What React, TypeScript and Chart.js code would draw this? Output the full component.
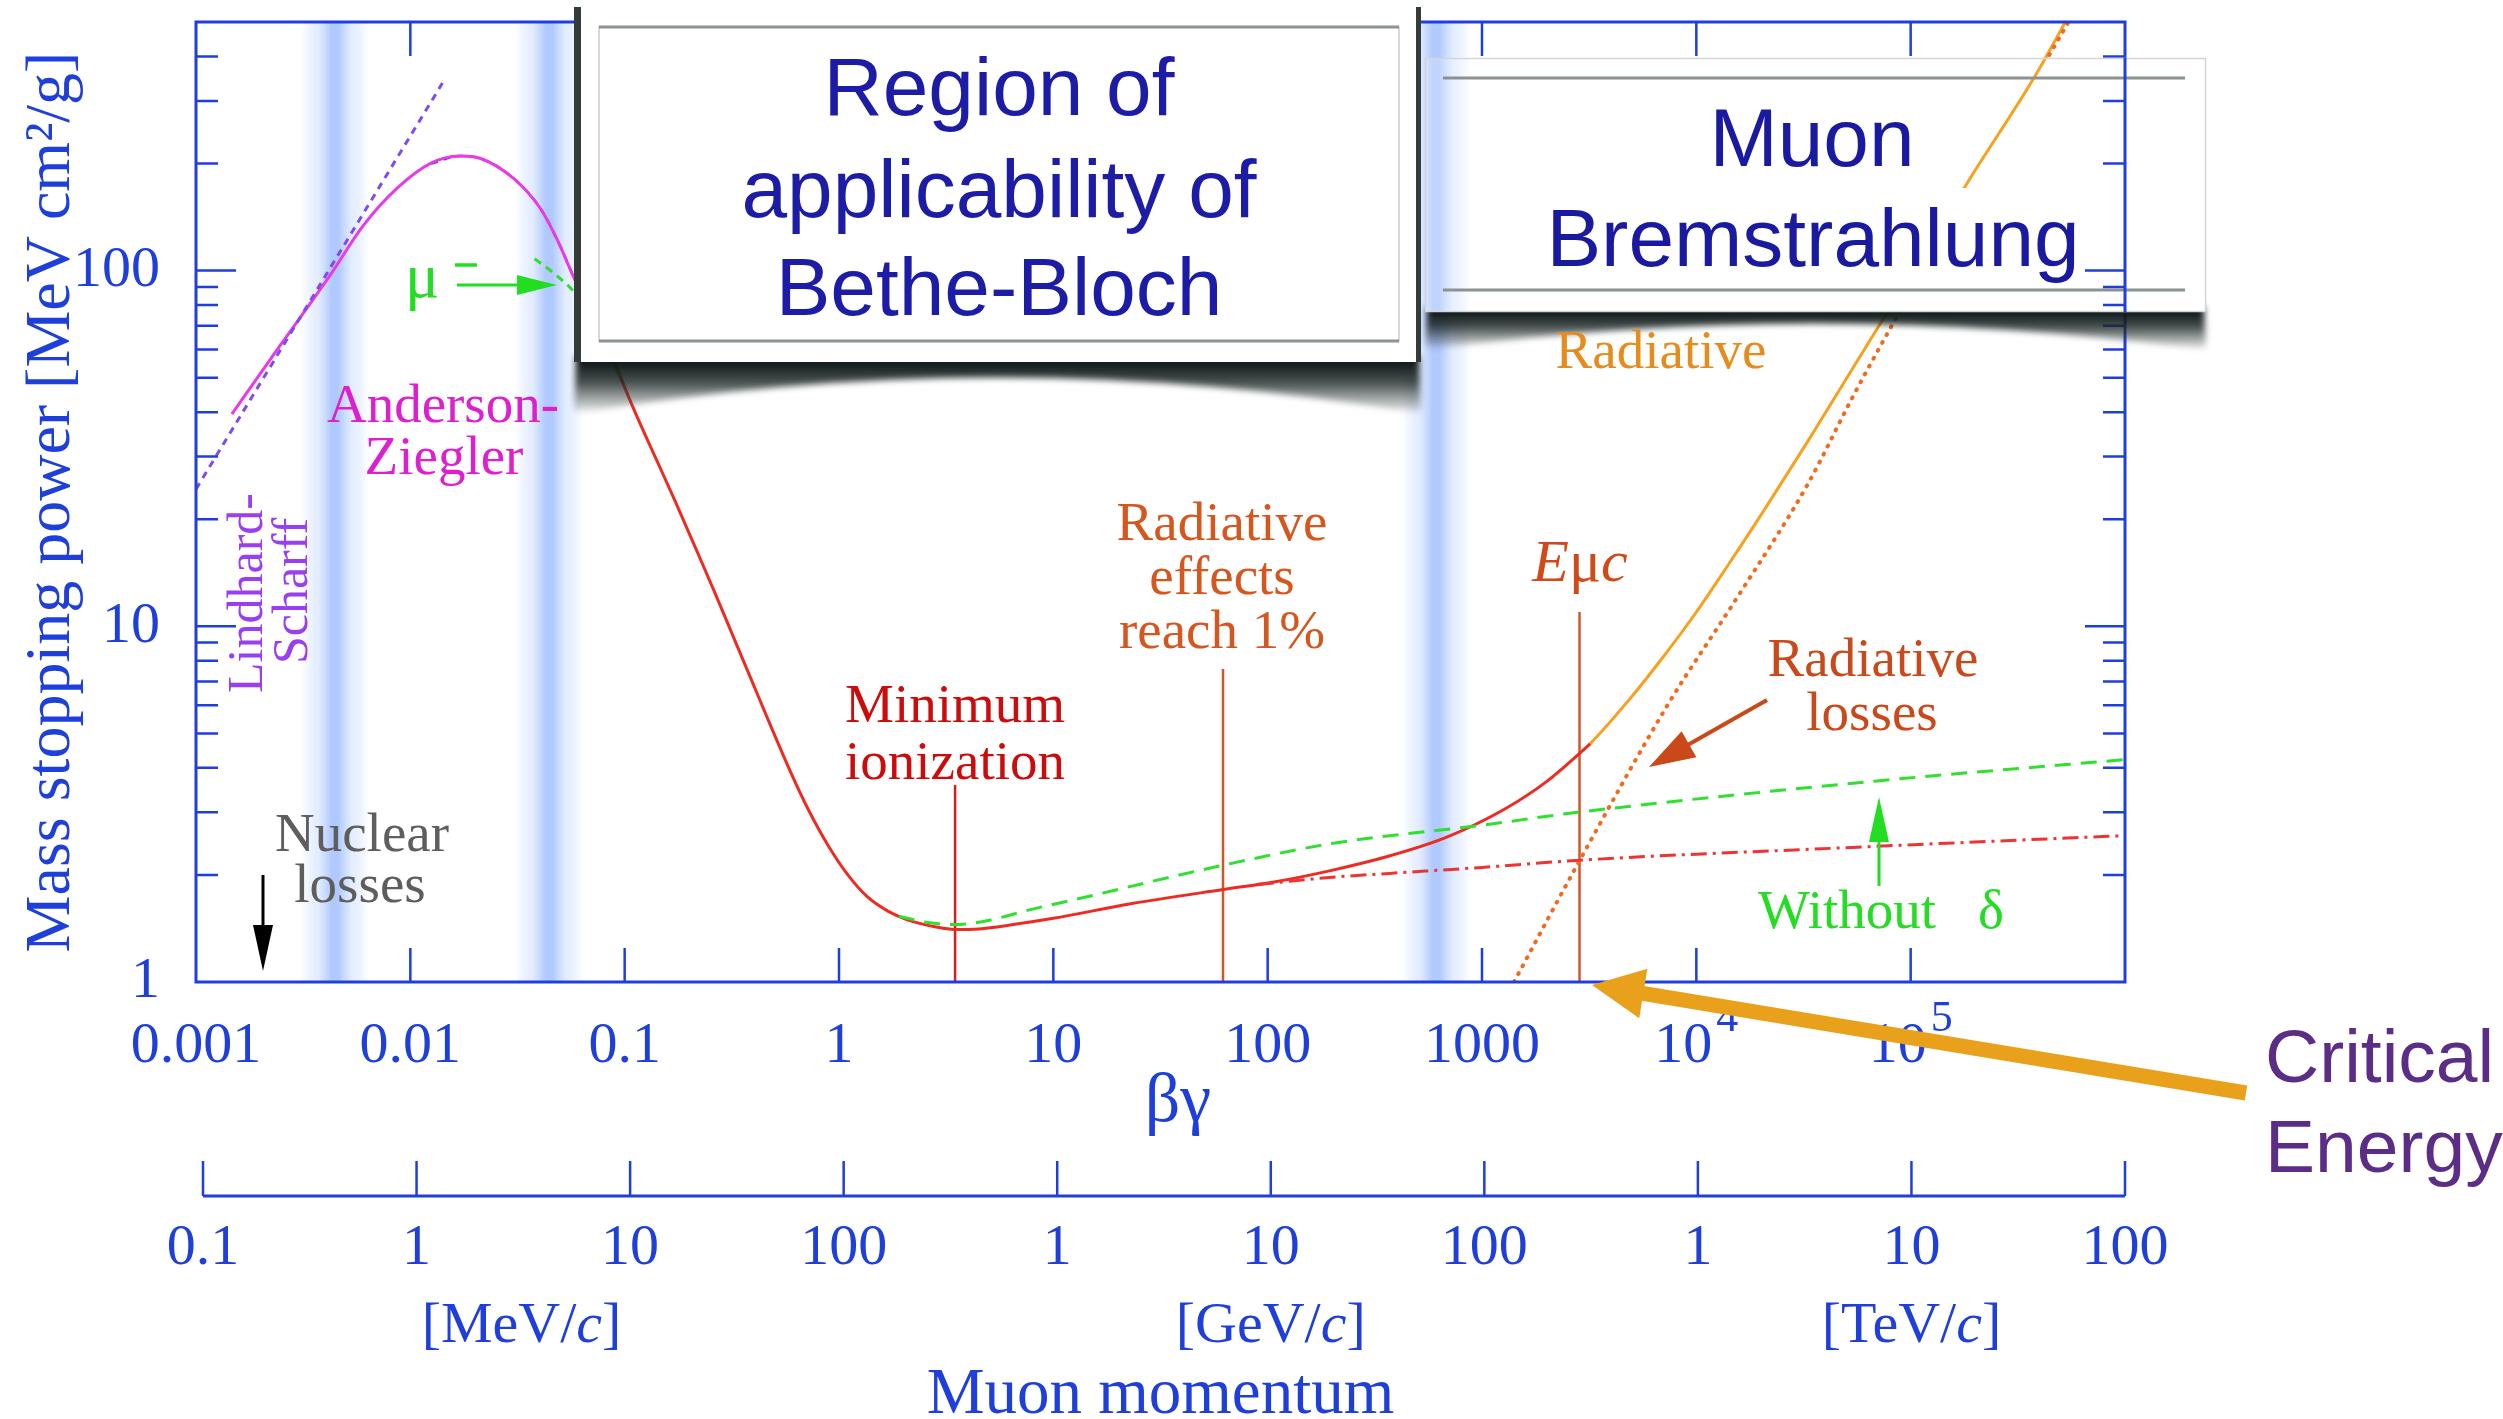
import React, { useEffect, useRef } from 'react';
import { Chart, registerables } from 'chart.js';

Chart.register(...registerables);

const SERIF = '"Liberation Serif", "Times New Roman", Times, serif';
const SANS = '"Liberation Sans", Arial, Helvetica, sans-serif';
const BLUE = '#1f3fdb';

// ---------- axes ----------
const bgTicks = [0.001, 0.01, 0.1, 1, 10, 100, 1000, 1e4, 1e5, 1e6];
const bgTickLabels = ['0.001', '0.01', '0.1', '1', '10', '100', '1000', '', '', ''];
const bgTickPowers = ['', '', '', '', '', '', '', '4', '5', ''];
const yTicks = [1, 10, 100];
const yTickLabels = ['1', '10', '100'];
const yMinorTicks = [2, 3, 4, 5, 6, 7, 8, 9, 20, 30, 40, 50, 60, 70, 80, 90, 200, 300, 400];
const pTicks = [0.1, 1, 10, 100, 1e3, 1e4, 1e5, 1e6, 1e7, 1e8]; // MeV/c
const pTickLabels = ['0.1', '1', '10', '100', '1', '10', '100', '1', '10', '100'];
const pUnitAt = [3.1, 1e4, 1e7];
const pUnitNames = ['MeV', 'GeV', 'TeV'];

// blue shaded region boundaries (βγ)
const bandCenters = [0.00445, 0.0444, 611];

// ---------- series (βγ, MeV cm²/g) ----------
const lsBG = [0.001, 0.01426];
const lsVal = [24.3, 340];

const azBG = [0.00147, 0.00247, 0.00422, 0.00604, 0.00863, 0.01236, 0.01706, 0.0211, 0.0302, 0.0403, 0.0482, 0.0587, 0.073, 0.085];
const azVal = [39.5, 61.6, 97, 134, 170, 200, 210, 207, 182, 150, 123, 94, 73, 60];

const ovBG = [0.0125, 0.01706, 0.0211, 0.0302, 0.0403, 0.0482, 0.0587];
const ovVal = [200, 210, 207, 182, 150, 123, 94];

const muBG = [0.038, 0.047, 0.059, 0.075, 0.095];
const muVal = [108, 98, 86, 68, 50];

// total stopping power: ionization part (red) ...
const ionBG = [0.085, 0.108, 0.14, 0.173, 0.22, 0.261, 0.32, 0.393, 0.48, 0.594, 0.72, 0.897, 1.1, 1.35, 1.7, 2.2, 2.8, 3.45, 4.5, 6.5, 10, 23, 62, 107, 199, 369, 680, 1260, 2000, 2860, 3200];
const ionVal = [60, 42, 29.6, 22.3, 16.0, 12.6, 9.4, 7.0, 5.25, 3.9, 3.05, 2.4, 2.0, 1.74, 1.58, 1.48, 1.43, 1.405, 1.41, 1.45, 1.51, 1.66, 1.82, 1.91, 2.06, 2.26, 2.55, 3.05, 3.66, 4.4, 4.68];
// ... continued where radiative losses take over (orange)
const totBG = [4840, 7000, 9930, 14000, 20400, 33000, 53500, 81600, 194000, 380000, 530000];
const totVal = [6.2, 8.2, 10.9, 14.8, 20.9, 33, 53, 80, 186, 352, 503];
const radiativeFrom = 3200;

const radBG = [1410, 2860, 7460, 15300, 33000, 53500, 81600, 194000, 380000, 540000];
const radVal = [1.0, 2.2, 6.1, 11.9, 25, 44, 70, 176, 345, 495];

const ndBG = [1.9, 2.6, 3.45, 9, 62, 199, 1000, 2800, 67900, 1e6];
const ndVal = [1.53, 1.47, 1.45, 1.63, 2.13, 2.45, 2.76, 3.0, 3.67, 4.22];

const ddBG = [90, 200, 369, 1000, 2850, 53500, 1e6];
const ddVal = [1.88, 1.97, 2.02, 2.1, 2.2, 2.39, 2.58];

const markerBG = [3.48, 61.9, 2851];
const markerTop = [3.58, 7.59, 10.97];
const markerColors = ['#d21e1e', '#d2552a', '#d2552a'];

const RED = '#ee2b22';
const ORANGE = '#f7a11e';
const TOTAL_INDEX = 7;

function pts(xs: number[], ys: number[]) {
  return xs.map((x, i) => ({ x, y: ys[i] }));
}

function txt(ctx: any, s: string, x: number, y: number, font: string, color: string, align: CanvasTextAlign = 'center', baseline: CanvasTextBaseline = 'alphabetic') {
  ctx.font = font;
  ctx.fillStyle = color;
  ctx.textAlign = align;
  ctx.textBaseline = baseline;
  ctx.fillText(s, x, y);
}

function richTxt(ctx: any, parts: [string, string][], cx: number, y: number, color: string) {
  let total = 0;
  for (const [s, f] of parts) { ctx.font = f; total += ctx.measureText(s).width; }
  let x = cx - total / 2;
  ctx.fillStyle = color;
  ctx.textAlign = 'left';
  ctx.textBaseline = 'alphabetic';
  for (const [s, f] of parts) { ctx.font = f; ctx.fillText(s, x, y); x += ctx.measureText(s).width; }
}

function arrow(ctx: any, x0: number, y0: number, x1: number, y1: number, color: string, lw: number, headLen: number, headHalf: number) {
  const a = Math.atan2(y1 - y0, x1 - x0);
  const c = Math.cos(a), s = Math.sin(a);
  const bx = x1 - headLen * c, by = y1 - headLen * s;
  ctx.save();
  ctx.strokeStyle = color;
  ctx.fillStyle = color;
  ctx.lineWidth = lw;
  ctx.lineCap = 'butt';
  ctx.beginPath();
  ctx.moveTo(x0, y0);
  ctx.lineTo(bx + 2 * c, by + 2 * s);
  ctx.stroke();
  ctx.beginPath();
  ctx.moveTo(x1, y1);
  ctx.lineTo(bx + headHalf * s, by - headHalf * c);
  ctx.lineTo(bx - headHalf * s, by + headHalf * c);
  ctx.closePath();
  ctx.fill();
  ctx.restore();
}

function drawBand(ctx: any, px: number, top: number, bottom: number) {
  const w = 34;
  const g = ctx.createLinearGradient(px - w, 0, px + w, 0);
  g.addColorStop(0, 'rgba(205,222,255,0)');
  g.addColorStop(0.25, 'rgba(222,234,255,0.85)');
  g.addColorStop(0.45, 'rgba(176,201,255,1)');
  g.addColorStop(0.55, 'rgba(176,201,255,1)');
  g.addColorStop(0.75, 'rgba(222,234,255,0.85)');
  g.addColorStop(1, 'rgba(205,222,255,0)');
  ctx.fillStyle = g;
  ctx.fillRect(px - w, top, 2 * w, bottom - top);
}

function curvedShadow(ctx: any, x0: number, x1: number, yb: number, depth: number) {
  ctx.save();
  try { ctx.filter = 'blur(3px)'; } catch (e) {}
  const g = ctx.createLinearGradient(0, yb, 0, yb + depth);
  g.addColorStop(0, 'rgba(15,24,24,1)');
  g.addColorStop(0.4, 'rgba(28,38,38,0.8)');
  g.addColorStop(0.8, 'rgba(60,70,70,0.35)');
  g.addColorStop(1, 'rgba(60,70,70,0)');
  ctx.fillStyle = g;
  ctx.beginPath();
  ctx.moveTo(x0 + 2, yb - 6);
  ctx.lineTo(x1 - 2, yb - 6);
  ctx.lineTo(x1, yb + depth);
  ctx.quadraticCurveTo((x0 + x1) / 2, yb - depth * 0.4, x0, yb + depth);
  ctx.closePath();
  ctx.fill();
  ctx.restore();
}

function drawYTicks(ctx: any, chart: any, side: 'left' | 'right') {
  const { chartArea: ca, scales } = chart;
  const y = scales.y;
  const x0 = side === 'left' ? ca.left : ca.right;
  const dir = side === 'left' ? 1 : -1;
  ctx.beginPath();
  for (const v of yTicks) {
    const py = y.getPixelForValue(v);
    if (py >= ca.bottom - 1) continue;
    ctx.moveTo(x0, py); ctx.lineTo(x0 + dir * 40, py);
  }
  for (const v of yMinorTicks) {
    const py = y.getPixelForValue(v);
    ctx.moveTo(x0, py); ctx.lineTo(x0 + dir * 22, py);
  }
  ctx.stroke();
}

const decorPlugin = {
  id: 'decor',
  beforeDatasetsDraw(chart: any) {
    const { ctx, chartArea: ca, scales } = chart;
    ctx.save();
    ctx.beginPath();
    ctx.rect(ca.left, ca.top, ca.right - ca.left, ca.bottom - ca.top);
    ctx.clip();
    for (const c of bandCenters) drawBand(ctx, scales.x.getPixelForValue(c), ca.top, ca.bottom);
    ctx.restore();
  },
  afterDraw(chart: any) {
    const { ctx, chartArea: ca, scales } = chart;
    const x = scales.x;
    const xp = scales.xp;
    ctx.save();

    // plot frame and inward ticks
    ctx.strokeStyle = BLUE;
    ctx.lineWidth = 3;
    ctx.strokeRect(ca.left, ca.top, ca.right - ca.left, ca.bottom - ca.top);
    ctx.lineWidth = 2.5;
    ctx.beginPath();
    for (const v of bgTicks) {
      const px = x.getPixelForValue(v);
      if (px <= ca.left + 1 || px >= ca.right - 1) continue;
      ctx.moveTo(px, ca.bottom); ctx.lineTo(px, ca.bottom - 34);
      ctx.moveTo(px, ca.top); ctx.lineTo(px, ca.top + 34);
    }
    ctx.stroke();
    drawYTicks(ctx, chart, 'left');
    drawYTicks(ctx, chart, 'right');

    // powers of ten labels (10^4, 10^5) on the βγ axis
    const labelMid = x.top + 30 + 34.8;
    bgTicks.forEach((v, i) => {
      const sup = bgTickPowers[i];
      if (!sup) return;
      const px = x.getPixelForValue(v);
      ctx.font = `58px ${SERIF}`;
      const w1 = ctx.measureText('10').width;
      ctx.font = `44px ${SERIF}`;
      const w2 = ctx.measureText(sup).width;
      const start = px - (w1 + w2 + 4) / 2;
      txt(ctx, '10', start, labelMid, `58px ${SERIF}`, BLUE, 'left', 'middle');
      txt(ctx, sup, start + w1 + 4, labelMid - 27, `44px ${SERIF}`, BLUE, 'left', 'middle');
    });

    // momentum axis: baseline with upward ticks
    const yl = xp.top + 35;
    ctx.strokeStyle = BLUE;
    ctx.lineWidth = 3;
    ctx.beginPath();
    ctx.moveTo(xp.getPixelForValue(pTicks[0]), yl);
    ctx.lineTo(xp.getPixelForValue(pTicks[pTicks.length - 1]), yl);
    ctx.stroke();
    ctx.lineWidth = 2.5;
    ctx.beginPath();
    for (const v of pTicks) {
      const px = xp.getPixelForValue(v);
      ctx.moveTo(px, yl); ctx.lineTo(px, xp.top);
    }
    ctx.stroke();
    pUnitAt.forEach((v, i) => {
      richTxt(ctx, [['[' + pUnitNames[i] + '/', `58px ${SERIF}`], ['c', `italic 58px ${SERIF}`], [']', `58px ${SERIF}`]], xp.getPixelForValue(v), 1342, BLUE);
    });

    // ---- "Region of applicability of Bethe-Bloch" box ----
    {
      const x0 = 574, x1 = 1421, y0 = 7, y1 = 362;
      curvedShadow(ctx, x0, x1, y1, 52);
      ctx.fillStyle = '#ffffff';
      ctx.fillRect(x0, y0, x1 - x0, y1 - y0);
      ctx.fillStyle = '#333b3b';
      ctx.fillRect(x0, y0, 7, y1 - y0);
      ctx.fillRect(x1 - 5, y0, 5, y1 - y0);
      ctx.strokeStyle = '#c9cdcd';
      ctx.lineWidth = 1.5;
      ctx.strokeRect(599, 27, 800, 314);
      ctx.strokeStyle = '#8a9292';
      ctx.lineWidth = 3;
      ctx.beginPath();
      ctx.moveTo(599, 27); ctx.lineTo(1399, 27);
      ctx.moveTo(599, 341); ctx.lineTo(1399, 341);
      ctx.stroke();
      const f = `82px ${SANS}`;
      txt(ctx, 'Region of', 999, 115, f, '#1c1ca6');
      txt(ctx, 'applicability of', 999, 217, f, '#1c1ca6');
      txt(ctx, 'Bethe-Bloch', 999, 315, f, '#1c1ca6');
    }

    // ---- "Muon Bremstrahlung" box ----
    {
      const x0 = 1425, x1 = 2206, y0 = 58, y1 = 312;
      curvedShadow(ctx, x0, x1, y1, 38);
      ctx.fillStyle = '#ffffff';
      ctx.fillRect(x0, y0, x1 - x0, y1 - y0);
      ctx.save();
      ctx.beginPath();
      ctx.rect(x0, y0, x1 - x0, y1 - y0);
      ctx.clip();
      ctx.globalAlpha = 0.8;
      drawBand(ctx, x.getPixelForValue(bandCenters[2]), y0, y1);
      ctx.restore();
      // the total-loss curve stays visible in the upper right of the box
      ctx.save();
      ctx.beginPath();
      ctx.rect(1900, y0, ca.right - 1900, 188 - y0);
      ctx.clip();
      const meta = chart.getDatasetMeta(TOTAL_INDEX);
      if (meta && meta.dataset) meta.dataset.draw(ctx, ca, 0, meta.data.length);
      ctx.restore();
      ctx.strokeStyle = '#d2d6d6';
      ctx.lineWidth = 1.5;
      ctx.strokeRect(x0 + 0.5, y0 + 0.5, x1 - x0 - 1, y1 - y0 - 1);
      ctx.strokeStyle = '#8a9292';
      ctx.lineWidth = 3;
      ctx.beginPath();
      ctx.moveTo(1443, 78); ctx.lineTo(2185, 78);
      ctx.moveTo(1443, 290); ctx.lineTo(2185, 290);
      ctx.stroke();
      const f = `82px ${SANS}`;
      txt(ctx, 'Muon', 1812, 166, f, '#1a1aa0');
      txt(ctx, 'Bremstrahlung', 1813, 266, f, '#1a1aa0');
      ctx.strokeStyle = BLUE;
      ctx.lineWidth = 3;
      ctx.beginPath();
      ctx.moveTo(ca.right, y0); ctx.lineTo(ca.right, y1);
      ctx.stroke();
      ctx.lineWidth = 2.5;
      ctx.save();
      ctx.beginPath();
      ctx.rect(x0, y0, x1 - x0, y1 - y0);
      ctx.clip();
      drawYTicks(ctx, chart, 'right');
      ctx.restore();
    }

    // ---- annotations ----
    const f55 = `55px ${SERIF}`;
    txt(ctx, 'Anderson-', 443, 422, f55, '#dd1fd0');
    txt(ctx, 'Ziegler', 444, 474, f55, '#dd1fd0');
    ctx.save();
    ctx.translate(262, 593);
    ctx.rotate(-Math.PI / 2);
    txt(ctx, 'Lindhard-', 0, 0, `50px ${SERIF}`, '#9a3ff0');
    ctx.restore();
    ctx.save();
    ctx.translate(307, 591);
    ctx.rotate(-Math.PI / 2);
    txt(ctx, 'Scharff', 0, 0, `50px ${SERIF}`, '#9a3ff0');
    ctx.restore();
    txt(ctx, 'μ', 405, 297, `64px ${SERIF}`, '#22dd22', 'left');
    ctx.strokeStyle = '#22dd22';
    ctx.lineWidth = 3.5;
    ctx.beginPath();
    ctx.moveTo(455, 265); ctx.lineTo(477, 265);
    ctx.stroke();
    arrow(ctx, 457, 285, 557, 285, '#22dd22', 3, 40, 10);
    txt(ctx, 'Nuclear', 362, 851, f55, '#5e5e5e');
    txt(ctx, 'losses', 360, 902, f55, '#5e5e5e');
    arrow(ctx, 263, 875, 263, 971, '#000000', 3, 46, 10);
    txt(ctx, 'Minimum', 955, 722, f55, '#cc0c0c');
    txt(ctx, 'ionization', 955, 779, f55, '#cc0c0c');
    txt(ctx, 'Radiative', 1222, 540, f55, '#d5561f');
    txt(ctx, 'effects', 1222, 594, f55, '#d5561f');
    txt(ctx, 'reach 1%', 1222, 648, f55, '#d5561f');
    richTxt(ctx, [['E', `italic 60px ${SERIF}`], ['μ', `60px ${SERIF}`], ['c', `italic 60px ${SERIF}`]], 1580, 581, '#cf4a18');
    txt(ctx, 'Radiative', 1873, 676, f55, '#c9491a');
    txt(ctx, 'losses', 1872, 730, f55, '#c9491a');
    arrow(ctx, 1767, 700, 1649, 767, '#c9491a', 4, 46, 15);
    txt(ctx, 'Radiative', 1661, 368, f55, '#e58c1c');
    txt(ctx, 'Without', 1847, 928, f55, '#22dd22');
    txt(ctx, 'δ', 1991, 928, f55, '#22dd22');
    arrow(ctx, 1879, 886, 1879, 797, '#22dd22', 3, 45, 10);

    // Critical Energy callout
    txt(ctx, 'Critical', 2265, 1082, `75px ${SANS}`, '#5b2d86', 'left');
    txt(ctx, 'Energy', 2265, 1172, `75px ${SANS}`, '#5b2d86', 'left');
    arrow(ctx, 2246, 1093, 1592, 985, '#e9a11c', 15, 52, 25);

    ctx.restore();
  },
};

export default function App() {
  const ref = useRef<HTMLCanvasElement>(null);

  useEffect(() => {
    const canvas = ref.current as HTMLCanvasElement;
    const line = (data: any[], color: string, width: number, dash: number[] = [], extra: any = {}) => ({
      data,
      borderColor: color,
      backgroundColor: color,
      borderWidth: width,
      borderDash: dash,
      pointRadius: 0,
      fill: false,
      cubicInterpolationMode: 'monotone',
      xAxisID: 'x',
      yAxisID: 'y',
      ...extra,
    });
    const datasets: any[] = [
      line(pts(lsBG, lsVal), '#7d4cf0', 3, [7, 6], { cubicInterpolationMode: 'default', tension: 0 }),
      line(pts(azBG, azVal), '#e83ae6', 3),
      line(pts(ovBG, ovVal), '#4b36d6', 2.5, [7, 6]),
      line(pts(muBG, muVal), '#2fe02f', 3, [8, 6]),
      line(pts(ndBG, ndVal), '#2fe02f', 3, [16, 10]),
      line(pts(ddBG, ddVal), '#ee3333', 3, [16, 6, 3, 6]),
      line(pts(radBG, radVal), '#f26a1c', 4, [1, 8], { borderCapStyle: 'round' }),
      line(pts(ionBG.concat(totBG), ionVal.concat(totVal)), RED, 3, [], {
        segment: { borderColor: (c: any) => (c.p0.parsed.x >= radiativeFrom ? ORANGE : RED) },
      }),
    ];
    markerBG.forEach((v, i) => {
      datasets.push(line([{ x: v, y: 1 }, { x: v, y: markerTop[i] }], markerColors[i], 2.5, [], { cubicInterpolationMode: 'default', tension: 0 }));
    });

    const chart = new Chart(canvas, {
      type: 'line',
      data: { datasets },
      options: {
        animation: false,
        responsive: false,
        devicePixelRatio: 1,
        events: [],
        layout: { padding: { top: 22, right: 378, bottom: 0, left: 0 }, autoPadding: false },
        plugins: { legend: { display: false }, tooltip: { enabled: false }, title: { display: false } },
        scales: {
          x: {
            type: 'logarithmic',
            position: 'bottom',
            weight: 0,
            min: 0.001,
            max: 1e6,
            afterBuildTicks: (s: any) => { s.ticks = bgTicks.map((v) => ({ value: v })); },
            afterFit: (s: any) => { s.height = 179; s.paddingLeft = 0; s.paddingRight = 0; },
            grid: { display: false, drawTicks: false },
            border: { display: false },
            ticks: {
              autoSkip: false, maxRotation: 0, minRotation: 0, padding: 30, color: BLUE,
              font: { family: SERIF, size: 58 },
              callback: (_v: any, i: number) => bgTickLabels[i],
            },
            title: {
              display: true, text: '\u2002βγ', color: BLUE,
              font: { family: SERIF, size: 70, lineHeight: 1 },
              padding: { top: 0, bottom: 23 },
            },
          },
          xp: {
            type: 'logarithmic',
            position: 'bottom',
            weight: 1,
            min: 0.1 / Math.pow(10, 7 / 213.6),
            max: 1e8,
            afterBuildTicks: (s: any) => { s.ticks = pTicks.map((v) => ({ value: v })); },
            afterFit: (s: any) => { s.height = 258; s.paddingLeft = 0; s.paddingRight = 0; },
            grid: { display: false, drawTicks: false },
            border: { display: false },
            ticks: {
              autoSkip: false, maxRotation: 0, minRotation: 0, padding: 53, color: BLUE,
              font: { family: SERIF, size: 58 },
              callback: (_v: any, i: number) => pTickLabels[i],
            },
            title: {
              display: true, text: 'Muon momentum', color: BLUE,
              font: { family: SERIF, size: 65, lineHeight: 1 },
              padding: { top: 0, bottom: -9 },
            },
          },
          y: {
            type: 'logarithmic',
            position: 'left',
            min: 1,
            max: 500,
            afterBuildTicks: (s: any) => { s.ticks = yTicks.map((v) => ({ value: v })); },
            afterFit: (s: any) => { s.width = 196; s.paddingTop = 0; s.paddingBottom = 0; },
            grid: { display: false, drawTicks: false },
            border: { display: false },
            ticks: {
              padding: 36, color: BLUE,
              font: { family: SERIF, size: 58 },
              callback: (_v: any, i: number) => yTickLabels[i],
            },
            title: {
              display: true, text: 'Mass stopping power [MeV cm²/g]', color: BLUE,
              font: { family: SERIF, size: 64, lineHeight: 1 },
              padding: { top: 20, bottom: 0 },
            },
          },
        },
      } as any,
      plugins: [decorPlugin as any],
    });
    return () => chart.destroy();
  }, []);

  return (
    <div style={{ position: 'absolute', left: 0, top: 0, width: 2503, height: 1419, background: '#ffffff' }}>
      <canvas ref={ref} width={2503} height={1419} style={{ display: 'block', width: 2503, height: 1419 }} />
    </div>
  );
}
